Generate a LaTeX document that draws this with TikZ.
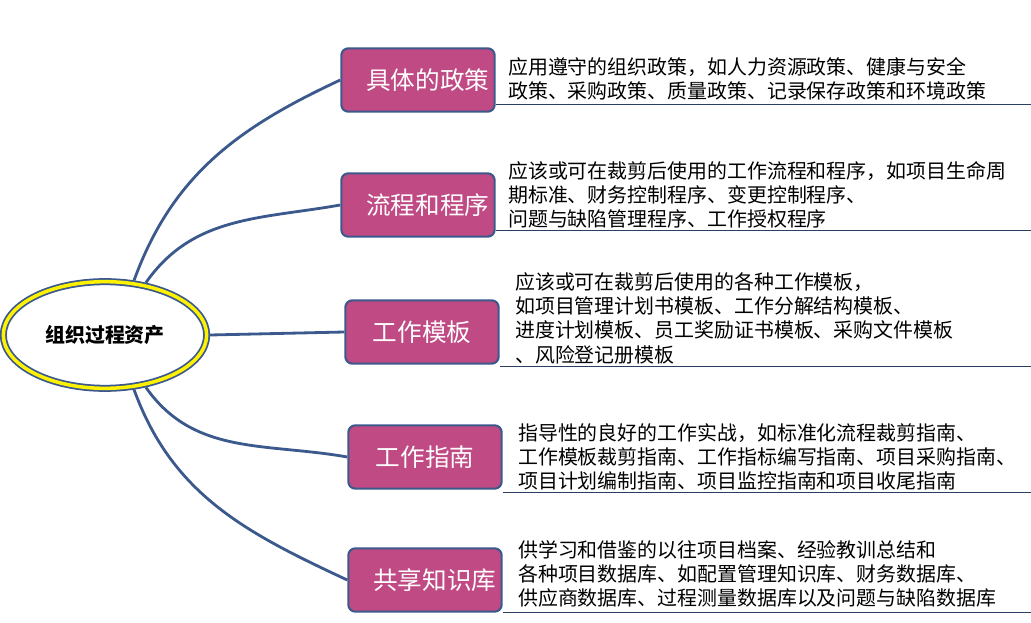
\documentclass[tikz,border=0pt]{standalone}
\usepackage{fontspec}
\newfontfamily\cjk{Noto Sans CJK SC}
\usetikzlibrary{positioning,shapes.geometric}

\begin{document}
\begin{tikzpicture}[
    x=0.03cm, y=-0.03cm,
    topic/.style = {
        rectangle, rounded corners=6pt, draw=linkblue, line width=1.8pt,
        fill=topicpink, minimum width=4.6cm, minimum height=1.9cm,
        text width=3.1cm, align=center, text=white,
        font=\cjk\fontsize{21}{26}\selectfont
    },
    note/.style = {
        anchor=north west, align=left, inner sep=0pt,
        font=\cjk\fontsize{17}{20.8}\selectfont
    },
    link/.style = {draw=linkblue, line width=2.4pt},
    rule/.style = {draw=linkblue!70!black, line width=0.6pt}
]
\definecolor{linkblue}{RGB}{59,89,140}
\definecolor{topicpink}{RGB}{192,74,132}
\useasboundingbox (0,0) rectangle (1031,623);

% Root
\node[ellipse, draw=linkblue, line width=6pt, minimum width=6.1cm, minimum height=3.2cm] (root) at (105,335) {};
\node[ellipse, draw=yellow, line width=3pt, minimum width=6.1cm, minimum height=3.2cm,
      font=\cjk\bfseries\fontsize{17}{19}\selectfont] at (105,335) {组织过程资产};

% Topics
\node[topic] (policy) at (418,80) {具体的政策};
\node[topic] (process) at (418,205) {流程和程序};
\node[topic] (template) at (422,332) {工作模板};
\node[topic] (guide) at (425,457) {工作指南};
\node[topic] (base) at (425,580) {共享知识库};

% Notes
\node[note] (n1) at (508,57) {应用遵守的组织政策，如人力资源政策、健康与安全\\政策、采购政策、质量政策、记录保存政策和环境政策};
\node[note] (n2) at (508,161) {应该或可在裁剪后使用的工作流程和程序，如项目生命周\\期标准、财务控制程序、变更控制程序、\\问题与缺陷管理程序、工作授权程序};
\node[note] (n3) at (515,272) {应该或可在裁剪后使用的各种工作模板，\\如项目管理计划书模板、工作分解结构模板、\\进度计划模板、员工奖励证书模板、采购文件模板\\、风险登记册模板};
\node[note] (n4) at (518,423) {指导性的良好的工作实战，如标准化流程裁剪指南、\\工作模板裁剪指南、工作指标编写指南、项目采购指南、\\项目计划编制指南、项目监控指南和项目收尾指南};
\node[note] (n5) at (518,540) {供学习和借鉴的以往项目档案、经验教训总结和\\各种项目数据库、如配置管理知识库、财务数据库、\\供应商数据库、过程测量数据库以及问题与缺陷数据库};

% Underlines
\coordinate (e1) at (1031,104);
\coordinate (e2) at (1031,230);
\coordinate (e3) at (1031,366);
\coordinate (e4) at (1031,492);
\coordinate (e5) at (1031,612);
\draw[rule] (policy.east |- e1) -- (e1);
\draw[rule] (process.east |- e2) -- (e2);
\draw[rule] (template.east |- e3) -- (e3);
\draw[rule] (guide.east |- e4) -- (e4);
\draw[rule] (base.east |- e5) -- (e5);

% Links
\draw[link] (root.62) to[out=70, in=205] (policy.west);
\draw[link] (root.52) to[out=55, in=190] (process.west);
\draw[link] (root.east) -- (template.west);
\draw[link] (root.-52) to[out=-55, in=170] (guide.west);
\draw[link] (root.-62) to[out=-70, in=155] (base.west);
\end{tikzpicture}
\end{document}
